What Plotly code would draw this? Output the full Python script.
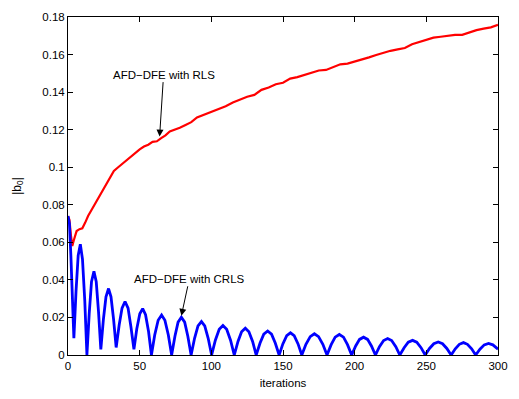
import plotly.graph_objects as go

# RLS curve (red)
rls_x = [0, 1, 2, 3, 4, 5, 6, 8, 10, 12, 14, 17, 20, 23, 26, 29, 32, 35, 38, 41, 44, 47,
         50, 53, 56, 59, 62, 65, 68, 71, 74, 78, 82, 86, 90, 95, 100, 105, 110, 115, 120,
         125, 130, 135, 140, 145, 150, 155, 160, 165, 170, 175, 180, 185, 190, 195, 200,
         205, 210, 215, 220, 225, 230, 235, 240, 245, 250, 255, 260, 265, 270, 275, 280,
         285, 290, 295, 300]
rls_y = [0.074, 0.072, 0.064, 0.058, 0.061, 0.064, 0.066, 0.067, 0.0675, 0.0705, 0.074,
         0.078, 0.082, 0.086, 0.090, 0.094, 0.098, 0.100, 0.102, 0.104, 0.1055, 0.108,
         0.1095, 0.111, 0.112, 0.1135, 0.1138, 0.1155, 0.117, 0.119, 0.1198, 0.121, 0.1225,
         0.124, 0.1265, 0.128, 0.1295, 0.131, 0.1325, 0.1345, 0.136, 0.1375, 0.1385, 0.1412,
         0.1425, 0.1442, 0.145, 0.1472, 0.148, 0.1492, 0.1502, 0.1515, 0.1518, 0.1532,
         0.1548, 0.1552, 0.1562, 0.1575, 0.1585, 0.1598, 0.161, 0.162, 0.1628, 0.1635,
         0.1655, 0.1668, 0.168, 0.169, 0.1695, 0.1702, 0.1705, 0.1705, 0.1718, 0.173,
         0.1738, 0.1745, 0.1758]

# CRLS curve (blue), read arc by arc
crls_x = [0, 1, 2, 3, 4.1,
          5.6, 7.1, 8.6, 10.1, 11.7, 13.2,
          14.8, 16.4, 18.1, 19.7, 21.3, 22.9,
          24.7, 26.5, 28.3, 30.0, 31.8, 33.6,
          35.7, 37.7, 39.8, 41.9, 43.9, 46.0,
          48.0, 50.1, 52.1, 54.1, 56.2, 58.2,
          60.5, 62.9, 65.3, 67.6, 70.0, 72.3,
          74.6, 76.8, 79.1, 81.4, 83.6, 85.9,
          88.3, 90.7, 93.1, 95.4, 97.8, 100.2,
          102.8, 105.5, 108.1, 110.7, 113.4, 116.0,
          118.6, 121.1, 123.7, 126.2, 128.8, 131.3,
          134.0, 136.6, 139.3, 142.0, 144.6, 147.3,
          149.9, 152.6, 155.2, 157.8, 160.5, 163.1,
          166.0, 169.0, 171.9, 174.8, 177.8, 180.7,
          183.6, 186.4, 189.3, 192.2, 195.0, 197.9,
          200.7, 203.4, 206.2, 209.0, 211.7, 214.5,
          217.3, 220.2, 223.0, 225.8, 228.7, 231.5,
          234.5, 237.4, 240.4, 243.3, 246.3, 249.2,
          252.2, 255.2, 258.3, 261.3, 264.3, 267.3,
          270.2, 273.0, 275.9, 278.7, 281.6, 284.4,
          287.4, 290.4, 293.4, 296.4, 300]
crls_y = [0.074, 0.070, 0.053, 0.031, 0.009,
          0.034, 0.053, 0.059, 0.051, 0.029, 0.0,
          0.022, 0.039, 0.0446, 0.039, 0.023, 0.003,
          0.019, 0.031, 0.0354, 0.031, 0.019, 0.004,
          0.016, 0.025, 0.0285, 0.025, 0.015, 0.003,
          0.014, 0.022, 0.0247, 0.0215, 0.0125, 0.0,
          0.0107, 0.0185, 0.0213, 0.0185, 0.0107, 0.0,
          0.010, 0.0175, 0.0201, 0.0175, 0.010, 0.0,
          0.0089, 0.0155, 0.0178, 0.0155, 0.0089, 0.0,
          0.0079, 0.0137, 0.0157, 0.0137, 0.0079, 0.0,
          0.0072, 0.0124, 0.0143, 0.0124, 0.0072, 0.0,
          0.0064, 0.0111, 0.0128, 0.0111, 0.0064, 0.0,
          0.0059, 0.0103, 0.0118, 0.0103, 0.0059, 0.0,
          0.0057, 0.0098, 0.0113, 0.0098, 0.0057, 0.0,
          0.0055, 0.0095, 0.0109, 0.0095, 0.0055, 0.0,
          0.0048, 0.0083, 0.0095, 0.0083, 0.0048, 0.0,
          0.0044, 0.0077, 0.0088, 0.0077, 0.0044, 0.0,
          0.0039, 0.0068, 0.0078, 0.0068, 0.0039, 0.0,
          0.0035, 0.0060, 0.0069, 0.0060, 0.0035, 0.0,
          0.0033, 0.0057, 0.0066, 0.0057, 0.0033, 0.0,
          0.0031, 0.0054, 0.0062, 0.0054, 0.0031]

x_ticks = [0, 50, 100, 150, 200, 250, 300]
y_ticks = [0, 0.02, 0.04, 0.06, 0.08, 0.1, 0.12, 0.14, 0.16, 0.18]
y_tick_text = ["0", "0.02", "0.04", "0.06", "0.08", "0.1", "0.12", "0.14", "0.16", "0.18"]

FONT = "Liberation Sans, Arial, Helvetica, sans-serif"

fig = go.Figure()
fig.add_trace(go.Scatter(x=rls_x, y=rls_y, mode="lines",
                         line=dict(color="#ff0000", width=2.2), showlegend=False))
fig.add_trace(go.Scatter(x=crls_x, y=crls_y, mode="lines",
                         line=dict(color="#0000ff", width=2.8), showlegend=False))

fig.add_annotation(x=63.9, y=0.1163, text="AFD\u2212DFE with RLS", showarrow=True,
                   ax=4, ay=-62, arrowhead=2, arrowsize=1.4, arrowwidth=1,
                   arrowcolor="black", font=dict(family=FONT, size=11.5, color="black"))
fig.add_annotation(x=79.1, y=0.0209, text="AFD\u2212DFE with CRLS", showarrow=True,
                   ax=8, ay=-37, arrowhead=2, arrowsize=1.4, arrowwidth=1,
                   arrowcolor="black", font=dict(family=FONT, size=11.5, color="black"))

axis_common = dict(showline=True, linecolor="black", linewidth=1, mirror="ticks",
                   ticks="inside", ticklen=5, tickcolor="black", showgrid=False,
                   zeroline=False, tickfont=dict(family=FONT, size=11.5, color="black"))

fig.update_xaxes(range=[0, 300], tickvals=x_ticks,
                 title=dict(text="iterations", font=dict(family=FONT, size=11.5, color="black"),
                            standoff=8),
                 **axis_common)
fig.update_yaxes(range=[0, 0.18], tickvals=y_ticks, ticktext=y_tick_text,
                 title=dict(text="|b<sub>0</sub>|", font=dict(family=FONT, size=12, color="black"),
                            standoff=18),
                 **axis_common)

fig.update_layout(width=519, height=399, margin=dict(l=68, r=11, t=14, b=38),
                  plot_bgcolor="white", paper_bgcolor="white",
                  font=dict(family=FONT, size=11.5, color="black"))

fig.write_html("out.html")
